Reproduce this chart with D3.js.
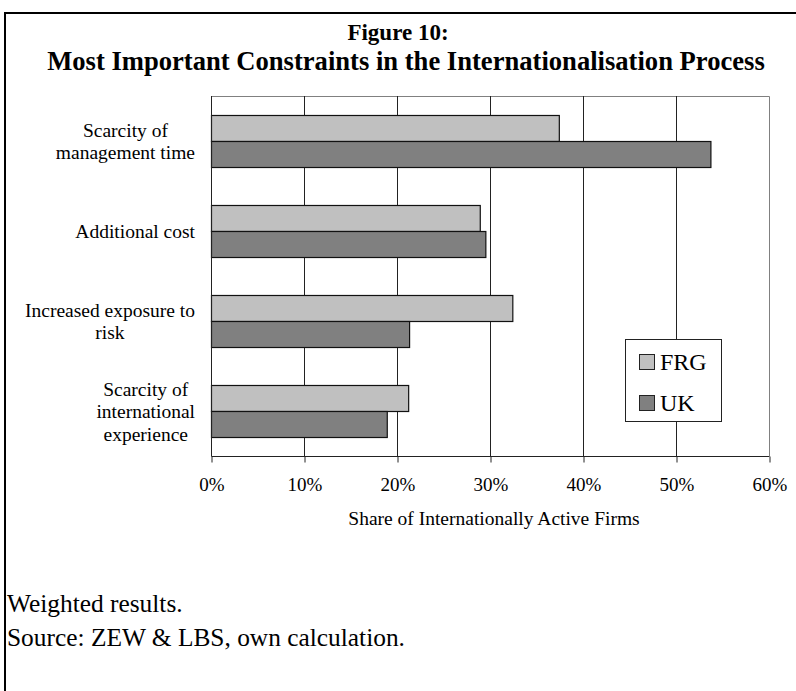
<!DOCTYPE html>
<html>
<head>
<meta charset="utf-8">
<script src="https://cdn.jsdelivr.net/npm/d3@7"></script>
<style>
  html, body { margin: 0; padding: 0; background: #fff; }
  svg { display: block; }
  text { font-family: "Liberation Serif", "Times New Roman", serif; fill: #000; }
</style>
</head>
<body>
<svg id="chart" width="796" height="691"></svg>
<script>
// Constraint categories (label lines as wrapped in the chart)
const categories = [
  "Scarcity of management time",
  "Additional cost",
  "Increased exposure to risk",
  "Scarcity of international experience"
];
const categoryLines = [
  ["Scarcity of", "management time"],
  ["Additional cost"],
  ["Increased exposure to", "risk"],
  ["Scarcity of", "international", "experience"]
];
const seriesNames = ["FRG", "UK"];
const frgValues = [37.4, 28.9, 32.4, 21.2];
const ukValues = [53.7, 29.5, 21.3, 18.9];
const xTicks = [0, 10, 20, 30, 40, 50, 60];
const seriesColors = ["#c0c0c0", "#808080"];

const svg = d3.select("#chart");
const W = 796, H = 691;

// Outer frame (runs off the right and bottom edges)
svg.append("rect")
  .attr("x", 5).attr("y", 13)
  .attr("width", W + 20).attr("height", H + 20)
  .attr("fill", "none").attr("stroke", "#000").attr("stroke-width", 2);

// Title
svg.append("text")
  .attr("x", 398).attr("y", 39.5)
  .attr("text-anchor", "middle")
  .style("font-weight", "bold").style("font-size", "23px")
  .text("Figure 10:");
svg.append("text")
  .attr("x", 406).attr("y", 69.5)
  .attr("text-anchor", "middle")
  .style("font-weight", "bold").style("font-size", "26.6px")
  .text("Most Important Constraints in the Internationalisation Process");

// Plot area
const plot = { left: 211, right: 769, top: 96, bottom: 456 };

const x = d3.scaleLinear().domain([0, 60]).range([plot.left, plot.right]);
const y = d3.scaleBand().domain(categories)
  .range([plot.top, plot.bottom])
  .paddingInner(0.422).paddingOuter(0.211);
const ySeries = d3.scaleBand().domain(seriesNames).range([0, y.bandwidth()]);

const px = v => Math.round(x(v)) + 0.5;

// Plot border (top and right)
svg.append("path")
  .attr("d", `M${plot.left + 0.5},${plot.top + 0.5}H${plot.right + 0.5}V${plot.bottom}`)
  .attr("fill", "none").attr("stroke", "#808080").attr("stroke-width", 1);

// Vertical gridlines
svg.append("g").selectAll("line")
  .data(xTicks.filter(t => t > 0 && t < 60))
  .join("line")
  .attr("x1", d => px(d)).attr("x2", d => px(d))
  .attr("y1", plot.top).attr("y2", plot.bottom)
  .attr("stroke", "#222").attr("stroke-width", 1);

// Bars
const rows = categories.map((c, i) => ({ cat: c, values: [frgValues[i], ukValues[i]] }));
const groups = svg.append("g").selectAll("g")
  .data(rows).join("g")
  .attr("transform", d => `translate(0,${y(d.cat)})`);
groups.selectAll("rect")
  .data(d => d.values.map((v, k) => ({ name: seriesNames[k], v, k })))
  .join("rect")
  .attr("x", x(0) + 0.5)
  .attr("y", d => ySeries(d.name) + 0.5)
  .attr("width", d => x(d.v) - x(0))
  .attr("height", ySeries.bandwidth())
  .attr("fill", d => seriesColors[d.k])
  .attr("stroke", "#111").attr("stroke-width", 1.2);

// X axis
const xAxis = d3.axisBottom(x)
  .tickValues(xTicks)
  .tickFormat(d => d + "%")
  .tickSize(6)
  .tickPadding(15);
const gx = svg.append("g")
  .attr("transform", `translate(0.5,${plot.bottom + 0.5})`)
  .call(xAxis);
gx.select(".domain").attr("stroke", "#222").attr("d", `M${plot.left},0H${plot.right}`);
gx.selectAll(".tick line").attr("stroke", "#222");
gx.selectAll(".tick text")
  .style("font-family", "'Liberation Serif', 'Times New Roman', serif")
  .style("font-size", "19px").attr("fill", "#000");

// Y axis line
svg.append("line")
  .attr("x1", plot.left + 0.5).attr("x2", plot.left + 0.5)
  .attr("y1", plot.top).attr("y2", plot.bottom + 0.5)
  .attr("stroke", "#222");

// Category labels
const labelG = svg.append("g").style("font-size", "19.5px");
const lineGap = 22.5;
categories.forEach((c, i) => {
  const lines = categoryLines[i];
  const cy = y(c) + y.bandwidth() / 2;
  const t = labelG.append("text").attr("text-anchor", "middle");
  lines.forEach((ln, j) => {
    t.append("tspan").text(ln)
      .attr("y", cy + (j - (lines.length - 1) / 2) * lineGap + 7);
  });
  // right-align the wrapped block, centering each line within it
  const widths = [];
  t.selectAll("tspan").each(function () { widths.push(this.getComputedTextLength()); });
  const blockW = d3.max(widths);
  t.selectAll("tspan").attr("x", 195 - blockW / 2);
});

// X axis title
svg.append("text")
  .attr("x", (plot.left + plot.right) / 2 + 4)
  .attr("y", 525)
  .attr("text-anchor", "middle")
  .style("font-size", "19.5px")
  .text("Share of Internationally Active Firms");

// Legend
const legend = svg.append("g");
legend.append("rect")
  .attr("x", 625.5).attr("y", 339.5)
  .attr("width", 96).attr("height", 82)
  .attr("fill", "#fff").attr("stroke", "#222").attr("stroke-width", 1);
seriesNames.forEach((name, k) => {
  const ly = 354 + k * 41;
  legend.append("rect")
    .attr("x", 639.5).attr("y", ly + 0.5)
    .attr("width", 15).attr("height", 15)
    .attr("fill", seriesColors[k]).attr("stroke", "#222");
  legend.append("text")
    .attr("x", 660).attr("y", ly + 16)
    .style("font-size", "24px")
    .text(name);
});

// Notes
const notes = svg.append("g").style("font-size", "25.4px");
notes.append("text").attr("x", 7).attr("y", 612).text("Weighted results.");
notes.append("text").attr("x", 7).attr("y", 646).text("Source: ZEW & LBS, own calculation.");
</script>
</body>
</html>
